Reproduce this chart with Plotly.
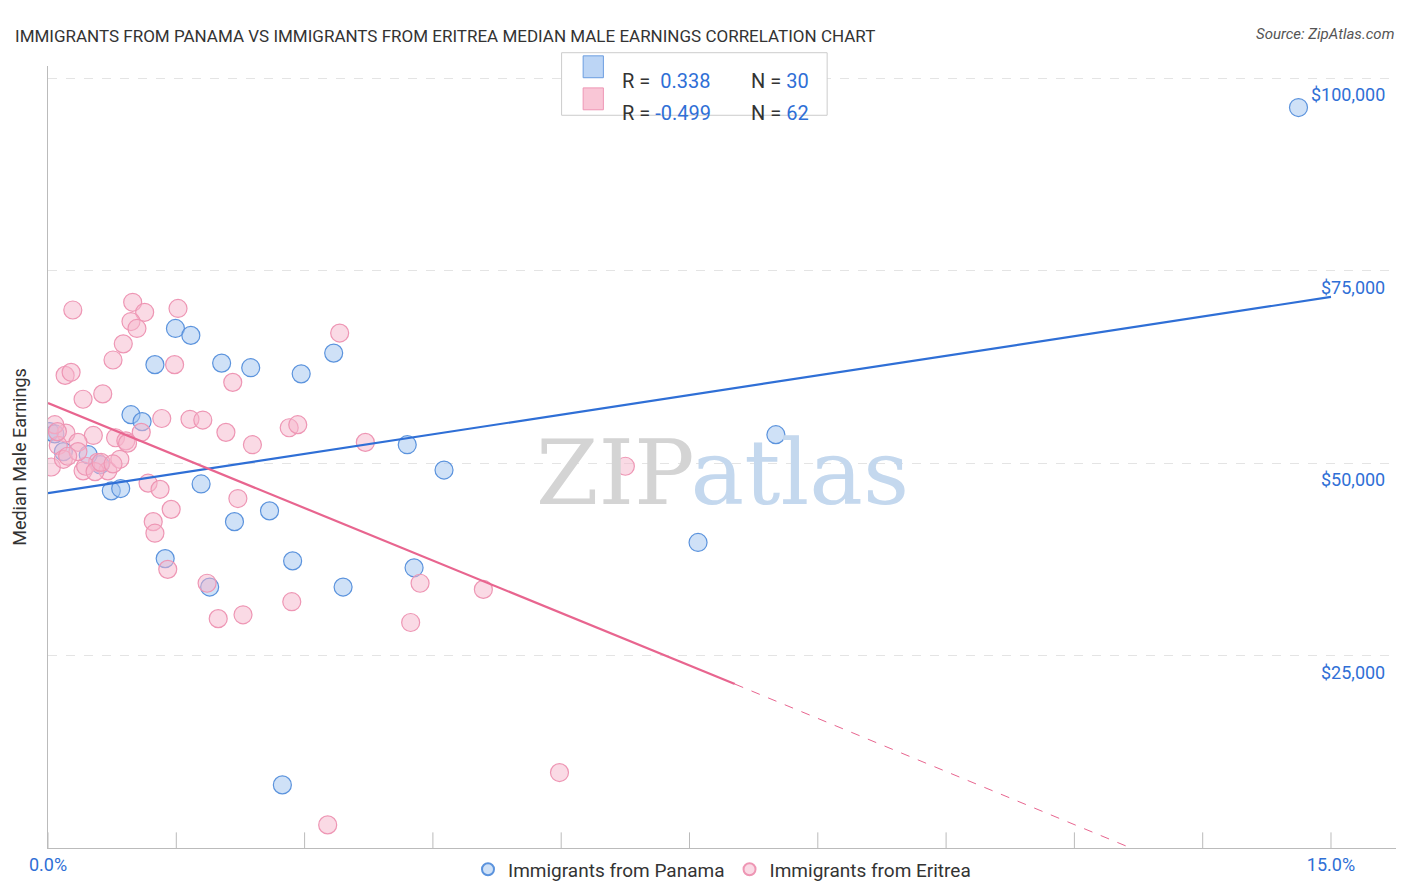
import plotly.graph_objects as go

# Immigrants from Panama (x: %, y: USD)
panama_x = [14.62, 8.51, 7.60, 4.63, 4.20, 3.34, 2.96, 2.37, 2.03, 1.49, 1.67, 1.25, 0.97, 1.10,
            1.79, 2.18, 2.59, 2.86, 3.45, 4.28, 1.89, 1.37, 0.74, 0.85, 0.61, 0.18, 0.47, 0.02, 2.74, 0.08]
panama_y = [96200, 53700, 39700, 49100, 52400, 64300, 61600, 62400, 63000, 67500, 66600, 62800, 56300, 55400,
            47300, 42400, 43800, 37300, 33900, 36400, 33900, 37600, 46400, 46700, 49800, 51500, 51100, 54100, 8200, 53800]

# Immigrants from Eritrea
eritrea_x = [0.29, 0.99, 1.52, 1.13, 0.97, 1.04, 3.41, 0.88, 0.76, 0.20, 0.27, 1.48, 2.16, 0.64, 0.41,
             1.66, 1.81, 2.08, 2.82, 2.92, 1.33, 1.09, 2.39, 3.71, 0.79, 0.91, 0.53, 0.21, 0.08, 0.04,
             0.12, 0.35, 0.58, 0.41, 0.70, 0.44, 0.84, 0.55, 1.17, 1.31, 1.44, 1.23, 1.25, 2.22, 1.40,
             1.86, 1.99, 2.28, 2.85, 4.24, 4.35, 5.09, 6.75, 5.98, 3.27, 0.62, 0.18, 0.35, 0.11, 0.93,
             0.76, 0.23]
eritrea_y = [69900, 70900, 70100, 69600, 68400, 67500, 66900, 65500, 63400, 61400, 61800, 62800, 60500, 59000, 58300,
             55700, 55600, 54000, 54600, 55000, 55800, 54000, 52400, 52700, 53300, 52900, 53600, 53900, 55000, 49500,
             52300, 52700, 50100, 49000, 49000, 49600, 50500, 48900, 47400, 46600, 44000, 42400, 40900, 45400, 36200,
             34400, 29800, 30300, 32000, 29300, 34400, 33600, 49600, 9800, 3000, 50100, 50500, 51500, 54100, 52600,
             49900, 50900]

# trend lines (x in %, y in USD)
panama_fit_x = [0.0, 15.0]
panama_fit_y = [46100, 71600]
eritrea_fit_x = [0.0, 8.03]
eritrea_fit_y = [57800, 21300]
eritrea_ext_x = [8.03, 12.66]
eritrea_ext_y = [21300, 0]

y_ticks = [25000, 50000, 75000, 100000]
y_labels = ["$25,000", "$50,000", "$75,000", "$100,000"]

blue = "#2f6fd6"
pink = "#e8658f"

fig = go.Figure()
fig.add_trace(go.Scatter(x=panama_x, y=panama_y, mode="markers", name="Immigrants from Panama",
                         marker=dict(size=18, symbol="circle", color="rgba(160,196,240,0.5)",
                                     line=dict(color="#5b93dd", width=1.2))))
fig.add_trace(go.Scatter(x=eritrea_x, y=eritrea_y, mode="markers", name="Immigrants from Eritrea",
                         marker=dict(size=18, symbol="circle", color="rgba(246,182,204,0.5)",
                                     line=dict(color="#ee96b4", width=1.2))))
fig.add_trace(go.Scatter(x=panama_fit_x, y=panama_fit_y, mode="lines", line=dict(color=blue, width=2.2),
                         showlegend=False, hoverinfo="skip"))
fig.add_trace(go.Scatter(x=eritrea_fit_x, y=eritrea_fit_y, mode="lines", line=dict(color=pink, width=2.2),
                         showlegend=False, hoverinfo="skip"))
fig.add_trace(go.Scatter(x=eritrea_ext_x, y=eritrea_ext_y, mode="lines", line=dict(color=pink, width=1, dash="dash"),
                         showlegend=False, hoverinfo="skip"))

# y labels at the right, inside plot
for v, t in zip(y_ticks, y_labels):
    fig.add_annotation(x=0.993, xref="paper", y=v, yref="y", text=t, showarrow=False, xanchor="right",
                       yanchor="top", yshift=-4, font=dict(size=18, color=blue))

# stat box
fig.add_shape(type="rect", xref="paper", yref="paper", x0=0.381, x1=0.578, y0=0.937, y1=1.017,
              line=dict(color="#cccccc", width=1), fillcolor="white")
for i, (r, n, fc, lc) in enumerate([("0.338", "30", "#bcd5f5", "#6a9de0"), ("-0.499", "62", "#f9c6d6", "#ee96b4")]):
    yy = 0.999 - i * 0.041
    fig.add_shape(type="rect", xref="paper", yref="paper", x0=0.397, x1=0.412, y0=yy - 0.014, y1=yy + 0.014,
                  fillcolor=fc, line=dict(color=lc, width=1))
    fig.add_annotation(xref="paper", yref="paper", x=0.424, y=yy, xanchor="left", showarrow=False,
                       text=f"R = <span style='color:{blue}'>{r:>6}</span>", font=dict(size=20, color="#333"))
    fig.add_annotation(xref="paper", yref="paper", x=0.52, y=yy, xanchor="left", showarrow=False,
                       text=f"N = <span style='color:{blue}'>{n}</span>", font=dict(size=20, color="#333"))

fig.add_annotation(xref="paper", yref="paper", x=0.5, y=0.48, showarrow=False,
                   text="<span style='color:#d4d4d4'>ZIP</span><span style='color:#c4d8ee'>atlas</span>",
                   font=dict(size=90, family="DejaVu Serif"))

fig.update_layout(
    width=1406, height=892,
    margin=dict(l=38, r=18, t=58, b=50),
    paper_bgcolor="white", plot_bgcolor="white",
    font=dict(family="Roboto, sans-serif", color="#333"),
    title=dict(text="IMMIGRANTS FROM PANAMA VS IMMIGRANTS FROM ERITREA MEDIAN MALE EARNINGS CORRELATION CHART",
               x=0.005, y=0.975, xanchor="left", font=dict(size=17, color="#333")),
    xaxis=dict(range=[0, 15.76], tickvals=[0, 15], ticktext=["0.0%", "15.0%"], showgrid=False, zeroline=False,
               showline=True, linecolor="#bbb", tickfont=dict(size=18, color=blue)),
    yaxis=dict(range=[0, 101600], showticklabels=False, tickvals=y_ticks, gridcolor="#e4e4e4", griddash="dash",
               zeroline=False, showline=True, linecolor="#bbb",
               title=dict(text="Median Male Earnings", font=dict(size=18, color="#333"))),
    legend=dict(orientation="h", x=0.5, xanchor="center", y=-0.003, yanchor="top", font=dict(size=19),
                itemsizing="constant"),
    showlegend=True,
)
for v in [1.5 * i for i in range(11)]:
    fig.add_shape(type="line", xref="x", yref="paper", x0=v, x1=v, y0=0, y1=0.02, line=dict(color="#bbb", width=1))
fig.add_annotation(xref="paper", yref="paper", x=1.0, y=1.055, xanchor="right", showarrow=False,
                   text="<i>Source: ZipAtlas.com</i>", font=dict(size=15, color="#555"))

fig.write_html("out.html")
